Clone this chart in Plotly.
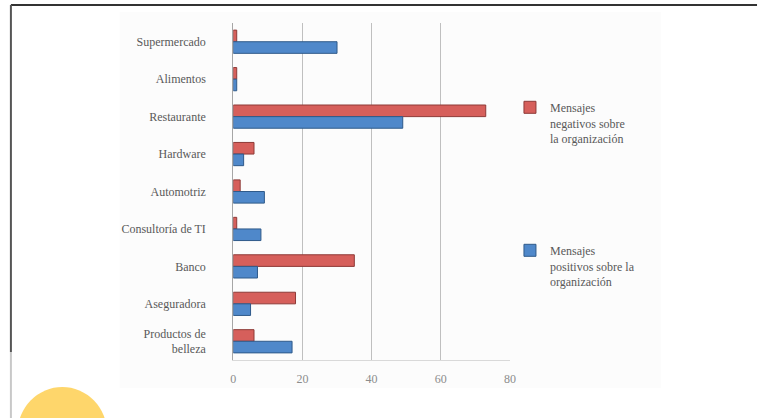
import plotly.graph_objects as go

categories = ["Supermercado", "Alimentos", "Restaurante", "Hardware", "Automotriz",
              "Consultoría de TI", "Banco", "Aseguradora", "Productos de<br>belleza"]
negativos = [1, 1, 73, 6, 2, 1, 35, 18, 6]
positivos = [30, 1, 49, 3, 9, 8, 7, 5, 17]
x_ticks = [0, 20, 40, 60, 80]

W, H = 765, 418
FONT = "Times New Roman"
TXT = "#595959"
FS = 12

fig = go.Figure()
fig.add_trace(go.Bar(
    y=categories, x=negativos, orientation="h",
    name="Mensajes<br>negativos sobre<br>la organización",
    marker=dict(color="#D65F5B", line=dict(color="#8E3A37", width=1)),
    legend="legend", showlegend=True,
))
fig.add_trace(go.Bar(
    y=categories, x=positivos, orientation="h",
    name="Mensajes<br>positivos sobre la<br>organización",
    marker=dict(color="#4F88CA", line=dict(color="#2F5A8A", width=1)),
    legend="legend2", showlegend=True,
))

x0, x1 = 233, 513
y_top, y_bot = 23, 360

fig.update_layout(
    width=W, height=H,
    margin=dict(l=0, r=0, t=0, b=0),
    paper_bgcolor="white", plot_bgcolor="rgba(0,0,0,0)",
    showlegend=True,
    barmode="group", bargap=0.38, bargroupgap=0,
    font=dict(family=FONT, size=FS, color=TXT),
    xaxis=dict(domain=[x0 / W, x1 / W], range=[0, 80], tickvals=x_ticks,
               showgrid=True, gridcolor="#BFBFBF", gridwidth=1, zeroline=False,
               showline=True, linecolor="#D9D9D9", ticklabelstandoff=8,
               tickfont=dict(family=FONT, size=FS, color="#8C8C8C")),
    yaxis=dict(domain=[1 - y_bot / H, 1 - y_top / H], autorange="reversed",
               showgrid=False, showline=True, linecolor="#A6A6A6",
               ticklabelstandoff=24,
               tickfont=dict(family=FONT, size=FS, color=TXT)),
    legend=dict(x=513 / W, y=1 - 93 / H, xanchor="left", yanchor="top",
                valign="top", bgcolor="rgba(0,0,0,0)",
                font=dict(family=FONT, size=FS, color=TXT),
                itemwidth=30),
    legend2=dict(x=513 / W, y=1 - 236 / H, xanchor="left", yanchor="top",
                 valign="top", bgcolor="rgba(0,0,0,0)",
                 font=dict(family=FONT, size=FS, color=TXT),
                 itemwidth=30),
    shapes=[
        dict(type="rect", xref="paper", yref="paper", layer="below",
             x0=118 / W, x1=666 / W, y0=1 - 388 / H, y1=1 - 12 / H,
             fillcolor="#FCFCFC", line=dict(width=0)),
        dict(type="line", xref="paper", yref="paper",
             x0=8 / W, x1=763 / W, y0=1 - 5 / H, y1=1 - 5 / H,
             line=dict(color="#333333", width=2)),
        dict(type="line", xref="paper", yref="paper",
             x0=8 / W, x1=8 / W, y0=1 - 5 / H, y1=1 - 352 / H,
             line=dict(color="#555555", width=2)),
        dict(type="line", xref="paper", yref="paper",
             x0=8 / W, x1=8 / W, y0=1 - 352 / H, y1=0,
             line=dict(color="#C8C8C8", width=2)),
        dict(type="circle", xref="paper", yref="paper",
             x0=(60 - 45) / W, x1=(60 + 45) / W,
             y0=1 - (432 + 45) / H, y1=1 - (432 - 45) / H,
             fillcolor="#FED66B", line=dict(width=0)),
    ],
)

fig.write_html("out.html", config={"displayModeBar": False},
               post_script="document.body.style.margin='0';")
